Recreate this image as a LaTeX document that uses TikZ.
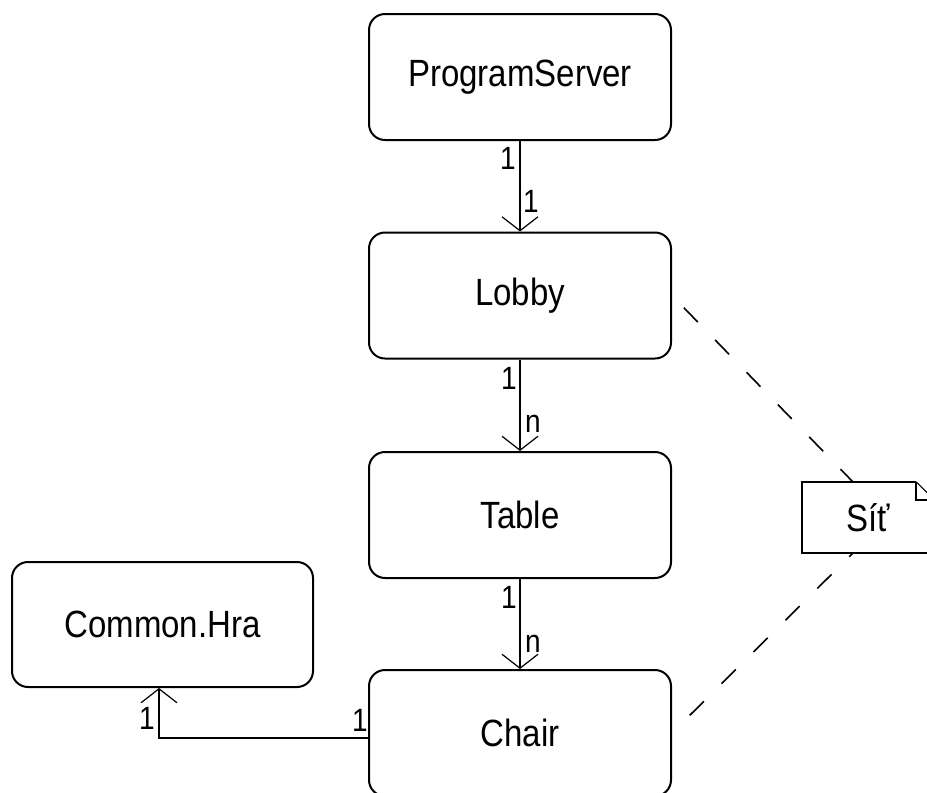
\documentclass[tikz,border=0pt]{standalone}
\usepackage{fontspec}
\setmainfont{Liberation Sans}
\usetikzlibrary{arrows.meta,calc}

% tall sans lettering for class names and multiplicities
\newcommand{\clsname}[1]{\fontsize{33}{40}\selectfont\scalebox{1}[1.15]{#1}}
\newcommand{\mult}[1]{\fontsize{28}{32}\selectfont\scalebox{1}[1.15]{#1}}

\tikzset{
  classbox/.style={draw, line width=2pt, rounded corners=16pt, inner sep=0pt,
    minimum width=302pt, minimum height=126pt, align=center},
  assoc/.style={line width=2pt,
    -{Straight Barb[length=14pt,width=36pt,line width=1.2pt]}},
  multlabel/.style={inner sep=0pt},
  notetext/.style={inner sep=0pt, minimum width=132pt, minimum height=71pt},
  noteline/.style={line width=2pt, line join=miter},
  dashline/.style={line width=1.6pt, dash pattern=on 20pt off 25pt}
}

\begin{document}
\begin{tikzpicture}[x=1pt,y=-1pt]
  \useasboundingbox (0,0) rectangle (927,793);

  % classes
  \node[classbox] (server) at (520,77)    {\clsname{ProgramServer}};
  \node[classbox] (lobby)  at (520,295.5) {\clsname{Lobby}};
  \node[classbox] (table)  at (520,515)   {\clsname{Table}};
  \node[classbox] (chair)  at (520,733)   {\clsname{Chair}};
  \node[classbox, minimum width=301pt, minimum height=125pt]
        (hra) at (162.5,624.5) {\clsname{Common.Hra}};

  % associations
  \draw[assoc] (server.south) -- (lobby.north);
  \draw[assoc] (lobby.south)  -- (table.north);
  \draw[assoc] (table.south)  -- (chair.north);
  \draw[assoc] ([yshift=-5pt]chair.west) -| ([xshift=-3.5pt]hra.south);

  % multiplicities
  \node[multlabel] (m1) at (508,158) {\mult{1}};
  \node[multlabel] (m2) at (531,201) {\mult{1}};
  \node[multlabel] (m3) at (509,378) {\mult{1}};
  \node[multlabel] (m4) at (533,424) {\mult{n}};
  \node[multlabel] (m5) at (509,597) {\mult{1}};
  \node[multlabel] (m6) at (533,644) {\mult{n}};
  \node[multlabel] (m7) at (360,720) {\mult{1}};
  \node[multlabel] (m8) at (147,718) {\mult{1}};

  % note with folded corner
  \node[notetext] (net) at (868,517.5) {\clsname{Síť}};
  \draw[noteline] ([xshift=-18pt]net.north east) -- (net.north west)
        -- (net.south west) -- (net.south east) -- ([yshift=-18pt]net.north east);
  \draw[line width=1.2pt] ([xshift=-18pt]net.north east) -- ([yshift=-18pt]net.north east);
  \draw[line width=2pt] ([xshift=-18pt]net.north east)
        -- ([xshift=-18pt,yshift=-18pt]net.north east) -- ([yshift=-18pt]net.north east);

  % attachments of the note
  \coordinate (netTop) at ([xshift=51pt]net.north west);
  \coordinate (netBot) at ([xshift=51pt]net.south west);
  \draw[dashline, shorten <=17pt] (lobby.east) -- (netTop);
  \draw[dashline, shorten <=25pt] (chair.east) -- (netBot);
\end{tikzpicture}
\end{document}
